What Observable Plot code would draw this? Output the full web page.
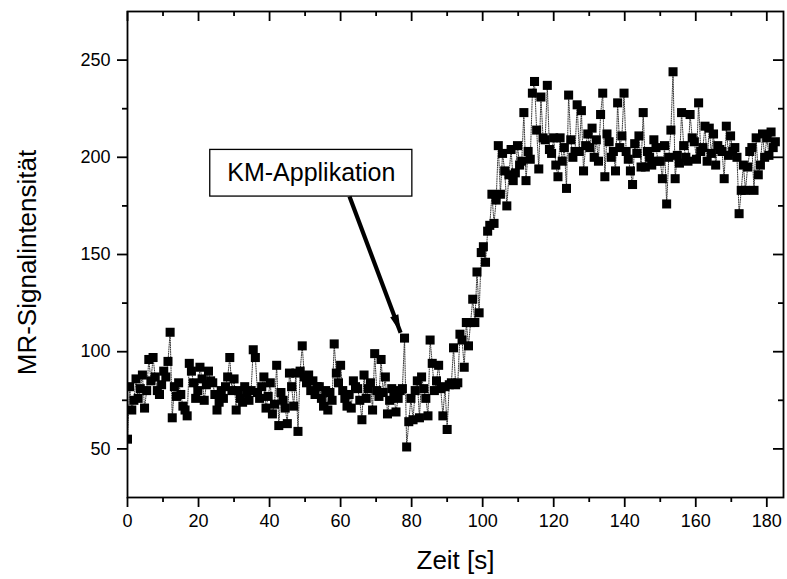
<!DOCTYPE html>
<html>
<head>
<meta charset="utf-8">
<script src="https://cdn.jsdelivr.net/npm/d3@7"></script>
<script src="https://cdn.jsdelivr.net/npm/@observablehq/plot@0.6"></script>
<style>
  body { margin: 0; background: #fff; }
  #chart svg { display: block; }
</style>
</head>
<body>
<div id="chart"></div>
<script>
// ---- data ----
const sampleInterval = 0.6; // seconds between acquisitions

// 0 s ... 89.4 s (before contrast agent arrives)
const baselineSignal = [
  55, 82, 70, 75, 86, 76, 81, 88, 71, 80,
  96, 85, 97, 87, 80, 78, 83, 90, 87, 95,
  110, 66, 82, 77, 84, 78, 72, 70, 67, 94,
  90, 84, 76, 80, 92, 86, 75, 83, 90, 85,
  84, 78, 70, 74, 80, 76, 82, 87, 97, 80,
  86, 70, 80, 76, 74, 82, 79, 75, 80, 101,
  97, 79, 76, 82, 87, 71, 77, 84, 68, 73,
  93, 62, 79, 75, 71, 63, 89, 82, 72, 89,
  59, 90, 103, 87, 84, 88, 80, 85, 78, 82,
  82, 76, 72, 80, 70, 79, 75, 104, 89, 84,
  93, 80, 76, 72, 78, 71, 85, 82, 81, 75,
  65, 88, 76, 81, 84, 70, 99, 80, 77, 96,
  79, 87, 68, 75, 81, 77, 69, 76, 80, 81,
  107, 51, 64, 76, 65, 80, 85, 66, 87, 81,
  76, 67, 106, 94, 80, 85, 93, 81, 67, 82
];
// 90 s ... 107.4 s (signal rise)
const riseSignal = [
  60, 83, 84, 102, 83, 84, 109, 106, 92, 115,
  103, 115, 127, 115, 141, 120, 151, 154, 146, 162,
  165, 181, 166, 178, 206, 181, 202, 193, 175, 191
];
// 108 s ... 182.4 s (plateau)
const plateauSignal = [
  204, 188, 192, 206, 196, 198, 223, 188, 203, 199,
  233, 239, 214, 194, 231, 210, 209, 237, 204, 202,
  210, 196, 190, 210, 198, 205, 184, 232, 209, 200,
  203, 227, 203, 224, 193, 206, 212, 205, 215, 200,
  209, 198, 222, 233, 190, 212, 208, 200, 203, 193,
  228, 205, 211, 233, 203, 199, 193, 186, 207, 202,
  211, 195, 223, 195, 203, 200, 196, 209, 205, 198,
  198, 189, 206, 176, 200, 214, 244, 189, 201, 197,
  223, 206, 200, 198, 222, 210, 208, 199, 228, 203,
  205, 216, 198, 215, 202, 212, 196, 206, 204, 203,
  189, 216, 201, 211, 203, 205, 200, 171, 183, 196,
  183, 195, 203, 205, 183, 210, 191, 196, 212, 200,
  210, 201, 213, 205, 208
];

const xMajorTicks = [0, 20, 40, 60, 80, 100, 120, 140, 160, 180];
const xMinorTicks = [10, 30, 50, 70, 90, 110, 130, 150, 170];
const yMajorTicks = [50, 100, 150, 200, 250];
const yMinorTicks = [75, 125, 175, 225];
const xDomain = [0, 184.7];
const yDomain = [25, 275];

const xTitle = ["Zeit [s]"];
const yTitle = ["MR-Signalintensität"];
const annotationLabel = [{text: "KM-Applikation", t: 51.75, v: 191.8}];
const annotationBox = [{t1: 23.3, t2: 80.2, v1: 179.8, v2: 203.8}];
const annotationArrow = [{t1: 62.5, v1: 179.8, t2: 76.9, v2: 109.8}];

// ---- build table ----
const signal = [...baselineSignal, ...riseSignal, ...plateauSignal];
const data = signal.map((v, i) => ({t: +(i * sampleInterval).toFixed(1), v}));

const W = 787, H = 579;
const mL = 127, mR = 4, mT = 11, mB = 82;
const innerW = W - mL - mR, innerH = H - mT - mB;
const font = "'Liberation Sans', Arial, Helvetica, sans-serif";

// arrow direction in pixels (for the filled head orientation)
const xs = d3.scaleLinear(xDomain, [mL, W - mR]);
const ys = d3.scaleLinear(yDomain, [H - mB, mT]);
const a = annotationArrow[0];
const adx = xs(a.t2) - xs(a.t1), ady = ys(a.v2) - ys(a.v1);
const alen = Math.hypot(adx, ady);
const ux = adx / alen, uy = ady / alen;
const headAngle = Math.atan2(ux, -uy) * 180 / Math.PI; // rotation of an upward-pointing head
const headR = 6.8;
const headS = Math.sqrt(Math.PI) * headR; // sqrt of symbol area
// narrow filled arrowhead, tip at (0, -s)
const arrowHead = {
  draw(context, size) {
    const s = Math.sqrt(size);
    context.moveTo(0, -s);
    context.lineTo(s * 0.36, s * 0.5);
    context.lineTo(-s * 0.36, s * 0.5);
    context.closePath();
  }
};

const chart = Plot.plot({
  width: W,
  height: H,
  marginLeft: mL,
  marginRight: mR,
  marginTop: mT,
  marginBottom: mB,
  style: {fontFamily: font, fontSize: "18px", background: "#fff", color: "#000"},
  x: {domain: xDomain, label: null},
  y: {domain: yDomain, label: null},
  marks: [
    // dotted connecting line
    Plot.line(data, {x: "t", y: "v", stroke: "#222", strokeWidth: 0.9, strokeDasharray: "1,1.3", clip: true}),
    // square symbols
    Plot.dot(data, {x: "t", y: "v", symbol: "square", r: 5.1, fill: "#000", clip: true}),
    // frame
    Plot.frame({stroke: "#000", strokeWidth: 1.8}),
    // bottom axis (outward ticks)
    Plot.axisX({ticks: xMajorTicks, tickSize: 10, tickPadding: 7, strokeWidth: 1.8, tickFormat: d => d, label: null, fontSize: 18}),
    Plot.axisX({ticks: xMinorTicks, tickSize: 5, strokeWidth: 1.8, tickFormat: () => "", label: null}),
    // left axis (outward ticks)
    Plot.axisY({ticks: yMajorTicks, tickSize: 10, tickPadding: 7, strokeWidth: 1.8, tickFormat: d => d, label: null, fontSize: 18}),
    Plot.axisY({ticks: yMinorTicks, tickSize: 5, strokeWidth: 1.8, tickFormat: () => "", label: null}),
    // top axis (inward ticks)
    Plot.tickX(xMajorTicks, {x: d => d, stroke: "#000", strokeWidth: 1.8, insetBottom: innerH - 10}),
    Plot.tickX(xMinorTicks, {x: d => d, stroke: "#000", strokeWidth: 1.8, insetBottom: innerH - 5}),
    // right axis (inward ticks)
    Plot.tickY(yMajorTicks, {y: d => d, stroke: "#000", strokeWidth: 1.8, insetLeft: innerW - 10}),
    Plot.tickY(yMinorTicks, {y: d => d, stroke: "#000", strokeWidth: 1.8, insetLeft: innerW - 5}),
    // annotation
    Plot.rect(annotationBox, {x1: "t1", x2: "t2", y1: "v1", y2: "v2", fill: "#fff", stroke: "#000", strokeWidth: 1.3}),
    Plot.text(annotationLabel, {x: "t", y: "v", text: "text", fontSize: 25, fill: "#000"}),
    Plot.link(annotationArrow, {x1: "t1", y1: "v1", x2: "t2", y2: "v2", stroke: "#000", strokeWidth: 4.2, strokeLinecap: "butt"}),
    Plot.dot(annotationArrow, {x: "t2", y: "v2", symbol: arrowHead, r: headR, fill: "#000", stroke: "none",
      rotate: headAngle, dx: -ux * headS, dy: -uy * headS}),
    // axis titles
    Plot.text(xTitle, {frameAnchor: "bottom", dy: 63, fontSize: 26, fill: "#000", lineAnchor: "middle"}),
    Plot.text(yTitle, {frameAnchor: "left", textAnchor: "middle", dx: -100, dy: 8, rotate: -90, fontSize: 26, fill: "#000", lineAnchor: "middle"})
  ]
});

document.getElementById("chart").append(chart);
</script>
</body>
</html>
